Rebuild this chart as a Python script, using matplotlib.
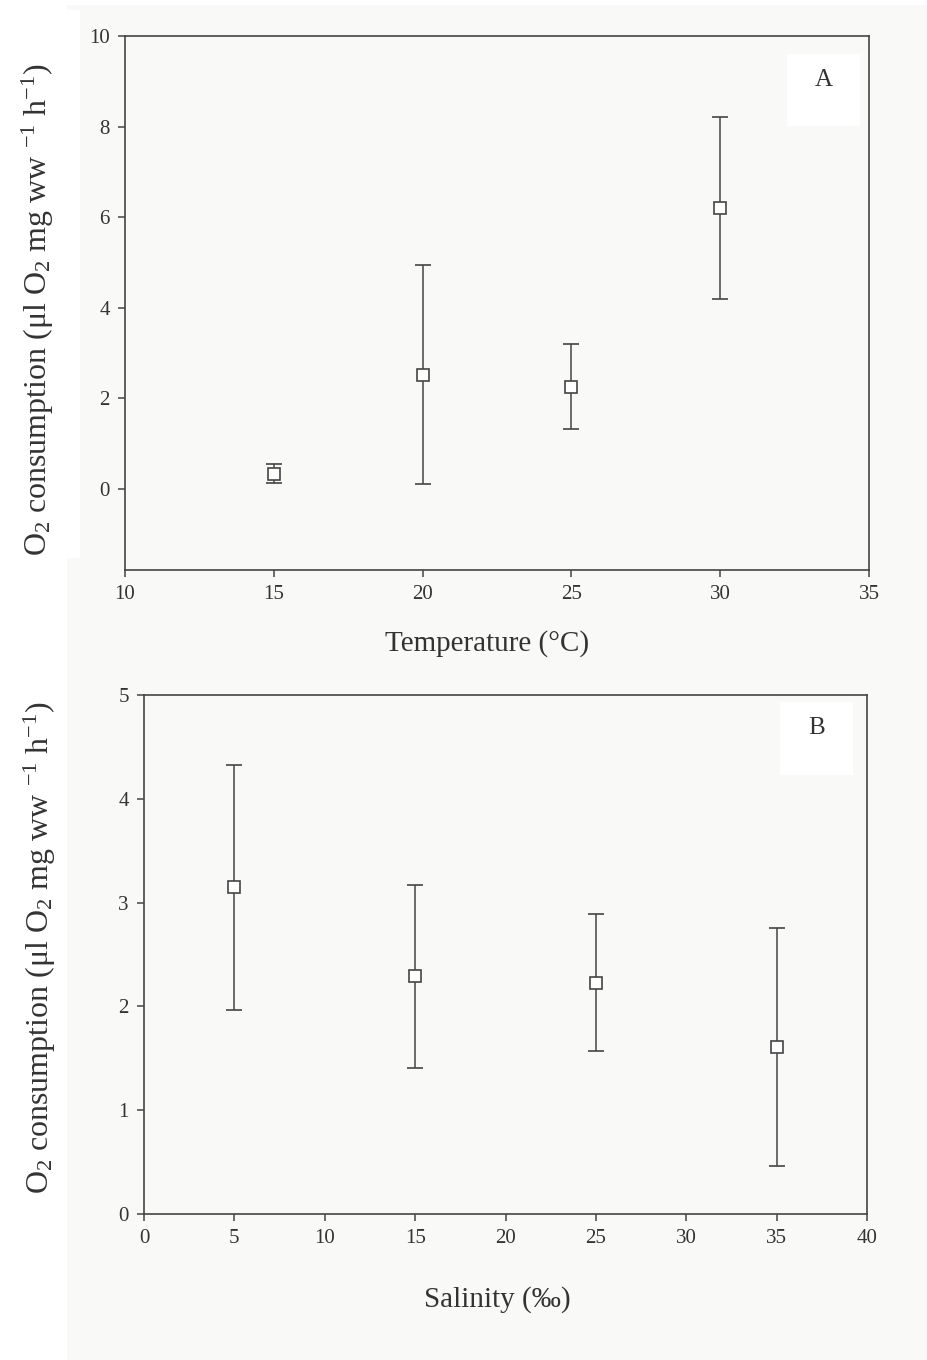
import numpy as np
import matplotlib
matplotlib.use("Agg")
from matplotlib import pyplot as plt
from matplotlib.patches import Rectangle

plt.rcParams['font.family'] = ['Liberation Serif', 'DejaVu Serif']
plt.rcParams['mathtext.fontset'] = 'custom'
plt.rcParams['mathtext.rm'] = 'Liberation Serif'
plt.rcParams['mathtext.it'] = 'Liberation Serif:italic'

#temperature trial: means and error bars
temp = [15, 20, 25, 30]
o2_temp = [0.33, 2.52, 2.25, 6.20]
err_temp = [0.21, 2.41, 0.94, 2.01]

#salinity trial
sal = [5, 15, 25, 35]
o2_sal = [3.15, 2.29, 2.23, 1.61]
err_sal = [1.18, 0.88, 0.66, 1.15]

ylab = r'O$_2$ consumption ($\mathrm{\mu}$l O$_2$ mg ww $^{-1}$ h$^{-1}$)'

W, H = 927, 1360
ink = '#444444'
paper = '#f9f9f7'

fig = plt.figure(figsize=(W/100, H/100), dpi=100)
fig.patch.set_facecolor('white')

def px_rect(x0, y0, x1, y1, color, z=0):
    # rectangle given in pixels from the top-left corner
    r = Rectangle((x0/W, 1-y1/H), (x1-x0)/W, (y1-y0)/H, transform=fig.transFigure,
                  facecolor=color, edgecolor='none', zorder=z)
    fig.add_artist(r)

px_rect(67, 5, W, H, paper, z=-10)
px_rect(0, 10, 80, 558, 'white', z=-9)

def panel(rect, x, y, e, xlim, ylim, yticks, xticks, letter, letter_box):
    ax = fig.add_axes(rect)
    ax.set_facecolor('none')
    ax.errorbar(x, y, yerr=e, fmt='s', color=ink, mfc='white', mec=ink,
                ms=8.5, mew=1.2, elinewidth=1.1, capsize=6, capthick=1.1, zorder=3)
    ax.set_xlim(xlim)
    ax.set_ylim(ylim)
    ax.set_xticks(xticks)
    ax.set_yticks(yticks)
    for s in ax.spines.values():
        s.set_color(ink)
        s.set_linewidth(1.2)
    ax.tick_params(direction='out', length=5, width=1.1, color=ink,
                   labelsize=15, labelcolor='#333333', pad=6)
    bx0, by0, bx1, by1 = letter_box
    px_rect(bx0, by0, bx1, by1, 'white', z=-5)
    fig.text((bx0+bx1)/2/W, 1-(by0+26)/H, letter, ha='center', va='center',
             fontsize=18, color='#333333')
    return ax

axA = panel([125/W, 1-570/H, 744/W, 534/H], temp, o2_temp, err_temp,
            (10, 35), (-1.8, 10), [0, 2, 4, 6, 8, 10], [10, 15, 20, 25, 30, 35],
            'A', (787, 54, 860, 126))
axB = panel([144/W, 1-1214/H, 723/W, 519/H], sal, o2_sal, err_sal,
            (0, 40), (0, 5), [0, 1, 2, 3, 4, 5], [0, 5, 10, 15, 20, 25, 30, 35, 40],
            'B', (780, 702, 853, 775))

fig.text(38/W, 1-310/H, ylab, rotation=90, ha='center', va='center',
         fontsize=23, color='#333333')
fig.text(40/W, 1-948/H, ylab, rotation=90, ha='center', va='center',
         fontsize=23, color='#333333')
fig.text(487/W, 1-644/H, 'Temperature (°C)', ha='center', va='center',
         fontsize=21, color='#333333')
fig.text(497/W, 1-1300/H, 'Salinity (‰)', ha='center', va='center',
         fontsize=21, color='#333333')

plt.savefig('out.png', dpi=100)
